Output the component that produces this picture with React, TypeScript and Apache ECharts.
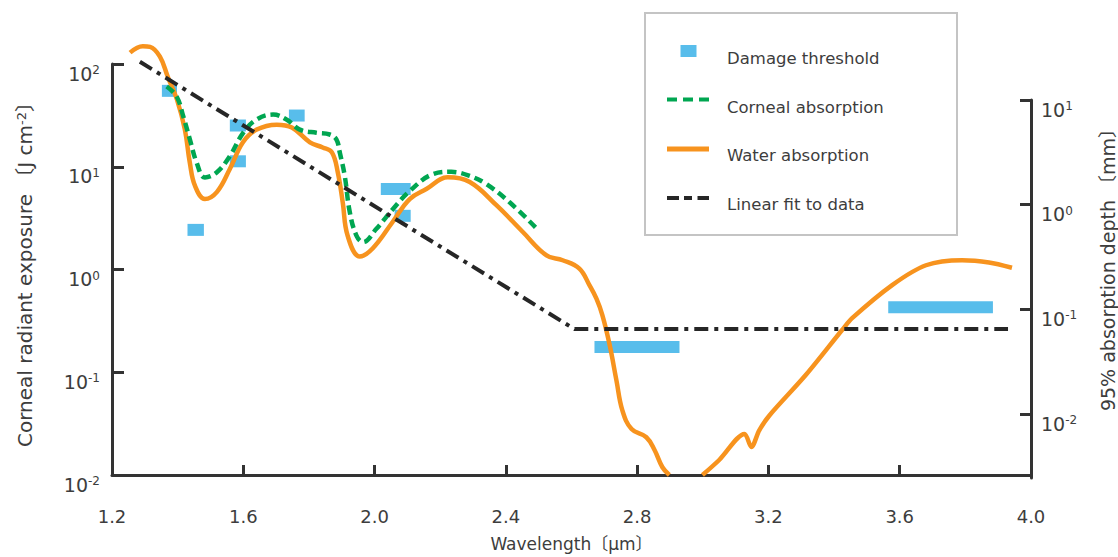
import React, { useEffect, useRef } from 'react';
import * as echarts from 'echarts';

// [wavelength start, wavelength end, threshold J/cm2]
const damageRanges: [number, number, number][] = [
  [1.352, 1.398, 54.8],
  [1.430, 1.480, 2.43],
  [1.559, 1.608, 25.2],
  [1.559, 1.608, 11.3],
  [1.739, 1.787, 31.5],
  [2.019, 2.110, 6.07],
  [2.061, 2.110, 3.33],
  [2.670, 2.929, 0.176],
  [3.565, 3.884, 0.43],
];

const waterPartA: [number, number][] = [
  [1.255, 129], [1.294, 149], [1.316, 147], [1.346, 118], [1.370, 75], [1.398, 45],
  [1.422, 23], [1.437, 11], [1.453, 6.5], [1.483, 4.85], [1.520, 5.7], [1.559, 9.5],
  [1.599, 17.3], [1.641, 23], [1.702, 25.7], [1.748, 24.1], [1.803, 17.3], [1.842, 15.4],
  [1.870, 13.8], [1.888, 8.8], [1.903, 4.5], [1.918, 2.13], [1.955, 1.34], [1.994, 1.6],
  [2.055, 2.9], [2.107, 4.85], [2.159, 6.1], [2.223, 7.9], [2.290, 7.1], [2.372, 4.2],
  [2.451, 2.33], [2.524, 1.37], [2.573, 1.23], [2.624, 1.02], [2.655, 0.70], [2.676, 0.52],
  [2.694, 0.36], [2.716, 0.186], [2.737, 0.083], [2.755, 0.0425], [2.783, 0.028],
  [2.828, 0.0233], [2.853, 0.0175], [2.877, 0.0119], [2.898, 0.01],
];

const waterPartB: [number, number][] = [
  [2.999, 0.01], [3.050, 0.014], [3.127, 0.0251], [3.148, 0.0187], [3.172, 0.0272],
  [3.203, 0.038], [3.315, 0.095], [3.425, 0.259], [3.455, 0.336], [3.577, 0.705],
  [3.680, 1.10], [3.790, 1.23], [3.872, 1.17], [3.942, 1.04],
];

const cornealData: [number, number][] = [
  [1.3665, 60.4], [1.3969, 48.3], [1.417, 31.0], [1.4374, 18.4], [1.4578, 11.0],
  [1.483, 7.87], [1.5187, 8.79], [1.5591, 12.7], [1.5996, 21.4], [1.6404, 28.8],
  [1.6909, 32.2], [1.7317, 28.8], [1.7722, 23.0], [1.823, 21.4], [1.8635, 20.6],
  [1.8839, 18.4], [1.8939, 13.8], [1.9091, 8.15], [1.9244, 3.63], [1.9448, 2.14],
  [1.9648, 1.85], [2.0056, 2.49], [2.0561, 3.88], [2.107, 5.8], [2.1779, 8.47],
  [2.2339, 8.92], [2.2896, 8.15], [2.3404, 6.78], [2.4113, 4.51], [2.4926, 2.53],
];

const linearFit: [number, number][] = [
  [1.285, 105], [2.609, 0.263], [3.930, 0.263],
];

const xTickInterval = 0.4;
const xMin = 1.2;
const xMax = 4.0;

const FONT = "'DejaVu Sans', 'Noto Sans CJK JP', sans-serif";
const TEXT = '#3d3d3d';
const AXIS = '#333333';
const BLUE = '#58bdeb';
const GREEN = '#00a651';
const ORANGE = '#f7931e';
const BLACK = '#262626';

const expLabel = (v: number) => {
  const e = Math.round(Math.log10(v));
  return `10{s|${e}}`;
};

export default function App() {
  const ref = useRef<HTMLDivElement>(null);

  useEffect(() => {
    document.body.style.margin = '0';
    if (!ref.current) return;
    const chart = echarts.init(ref.current, null, { renderer: 'svg' });

    const supRich = {
      s: { fontSize: 12, verticalAlign: 'top', fontFamily: FONT, color: TEXT },
    };

    const option: any = {
      animation: false,
      backgroundColor: '#fff',
      grid: [
        { left: 112, right: 87, top: 64, bottom: 79 },
        { left: 112, right: 87, top: 100, bottom: 79 },
      ],
      xAxis: [
        {
          gridIndex: 0,
          type: 'value',
          min: xMin,
          max: xMax,
          interval: xTickInterval,
          axisLine: { lineStyle: { color: AXIS, width: 3 } },
          axisTick: { inside: true, length: 10, lineStyle: { color: AXIS, width: 3 } },
          axisLabel: {
            formatter: (v: number) => v.toFixed(1),
            fontFamily: FONT, fontSize: 18, color: TEXT, margin: 32,
          },
          splitLine: { show: false },
          name: 'Wavelength〔μm〕',
          nameLocation: 'middle',
          nameGap: 60,
          nameTextStyle: { fontFamily: FONT, fontSize: 17, color: TEXT },
        },
        { gridIndex: 1, type: 'value', min: xMin, max: xMax, show: false },
      ],
      yAxis: [
        {
          gridIndex: 0,
          type: 'log',
          logBase: 10,
          min: 0.01,
          max: 100,
          position: 'left',
          axisLine: { show: true, lineStyle: { color: AXIS, width: 3 } },
          axisTick: { show: true, inside: true, length: 12, lineStyle: { color: AXIS, width: 3 } },
          axisLabel: {
            formatter: expLabel,
            rich: supRich,
            fontFamily: FONT, fontSize: 19, color: TEXT, margin: 12,
            verticalAlign: 'top',
          },
          splitLine: { show: false },
          name: 'Corneal radiant exposure 〔J cm{s|-2}〕',
          nameLocation: 'middle',
          nameGap: 77,
          nameTextStyle: {
            fontFamily: FONT, fontSize: 20, color: TEXT,
            rich: { s: { fontSize: 13, verticalAlign: 'top', fontFamily: FONT, color: TEXT } },
          },
        },
        {
          gridIndex: 1,
          type: 'log',
          logBase: 10,
          min: 0.002449,
          max: 10,
          position: 'right',
          axisLine: { show: true, lineStyle: { color: AXIS, width: 3 } },
          axisTick: { show: true, inside: true, length: 11, lineStyle: { color: AXIS, width: 3 } },
          axisLabel: {
            formatter: expLabel,
            rich: supRich,
            showMinLabel: false,
            fontFamily: FONT, fontSize: 19, color: TEXT, margin: 10,
            verticalAlign: 'top',
          },
          splitLine: { show: false },
        },
      ],
      legend: {
        orient: 'vertical',
        left: 667,
        top: 44.5,
        itemWidth: 42,
        itemHeight: 28,
        itemGap: 20.7,
        padding: 0,
        selectedMode: false,
        textStyle: { fontFamily: FONT, fontSize: 16.5, color: TEXT, padding: [0, 0, 0, 13] },
        data: [
          {
            name: 'Damage threshold',
            icon: 'path://M0,0h42M0,28h42M13.5,0.5h16v12h-16z',
            itemStyle: { color: BLUE, borderWidth: 0, borderColor: 'transparent' },
          },
          {
            name: 'Corneal absorption',
            icon: 'path://M0,0h42M0,28h42M0,4.3h10v4h-10zM16,4.3h10v4h-10zM32,4.3h10v4h-10z',
            itemStyle: { color: GREEN, borderWidth: 0, borderColor: 'transparent' },
          },
          {
            name: 'Water absorption',
            icon: 'path://M0,0h42M0,28h42M0,4.6h42v5h-42z',
            itemStyle: { color: ORANGE, borderWidth: 0, borderColor: 'transparent' },
          },
          {
            name: 'Linear fit to data',
            icon: 'path://M0,0h42M0,28h42M0,5.4h12v4h-12zM17,5.4h8v4h-8zM30.5,5.4h11.5v4h-11.5z',
            itemStyle: { color: BLACK, borderWidth: 0, borderColor: 'transparent' },
          },
        ],
      },
      graphic: [
        {
          type: 'rect',
          z: -10,
          shape: { x: 645, y: 13, width: 312, height: 222 },
          style: { fill: '#fff', stroke: '#c4c4c4', lineWidth: 2 },
        },
        {
          type: 'text',
          x: 1108,
          y: 265,
          rotation: Math.PI / 2,
          style: {
            text: '95% absorption depth 〔mm〕',
            fontFamily: FONT,
            fontSize: 19,
            fill: TEXT,
            align: 'center',
            verticalAlign: 'middle',
          },
        },
      ],
      series: [
        {
          name: 'Damage threshold',
          type: 'custom',
          xAxisIndex: 0,
          yAxisIndex: 0,
          data: damageRanges,
          encode: { x: [0, 1], y: 2 },
          itemStyle: { color: BLUE },
          renderItem: (params: any, api: any) => {
            const p0 = api.coord([api.value(0), api.value(2)]);
            const p1 = api.coord([api.value(1), api.value(2)]);
            return {
              type: 'rect',
              shape: { x: p0[0], y: p0[1] - 6, width: p1[0] - p0[0], height: 12 },
              style: { fill: BLUE },
            };
          },
        },
        {
          name: 'Water absorption',
          type: 'line',
          xAxisIndex: 0,
          yAxisIndex: 0,
          data: waterPartA,
          smooth: 0.4,
          symbol: 'none',
          clip: false,
          lineStyle: { color: ORANGE, width: 4.5 },
          itemStyle: { color: ORANGE },
        },
        {
          name: 'Water absorption',
          type: 'line',
          xAxisIndex: 0,
          yAxisIndex: 0,
          data: waterPartB,
          smooth: 0.3,
          symbol: 'none',
          clip: false,
          lineStyle: { color: ORANGE, width: 4.5 },
          itemStyle: { color: ORANGE },
        },
        {
          name: 'Corneal absorption',
          type: 'line',
          xAxisIndex: 0,
          yAxisIndex: 0,
          data: cornealData,
          smooth: 0.4,
          symbol: 'none',
          clip: false,
          lineStyle: { color: GREEN, width: 4.5, type: [9, 5] },
          itemStyle: { color: GREEN },
        },
        {
          name: 'Linear fit to data',
          type: 'line',
          xAxisIndex: 0,
          yAxisIndex: 0,
          data: linearFit,
          symbol: 'none',
          clip: false,
          lineStyle: { color: BLACK, width: 4, type: [14, 6, 4, 6] },
          itemStyle: { color: BLACK },
        },
      ],
    };

    chart.setOption(option);
    return () => chart.dispose();
  }, []);

  return <div ref={ref} style={{ width: 1118, height: 557 }} />;
}
